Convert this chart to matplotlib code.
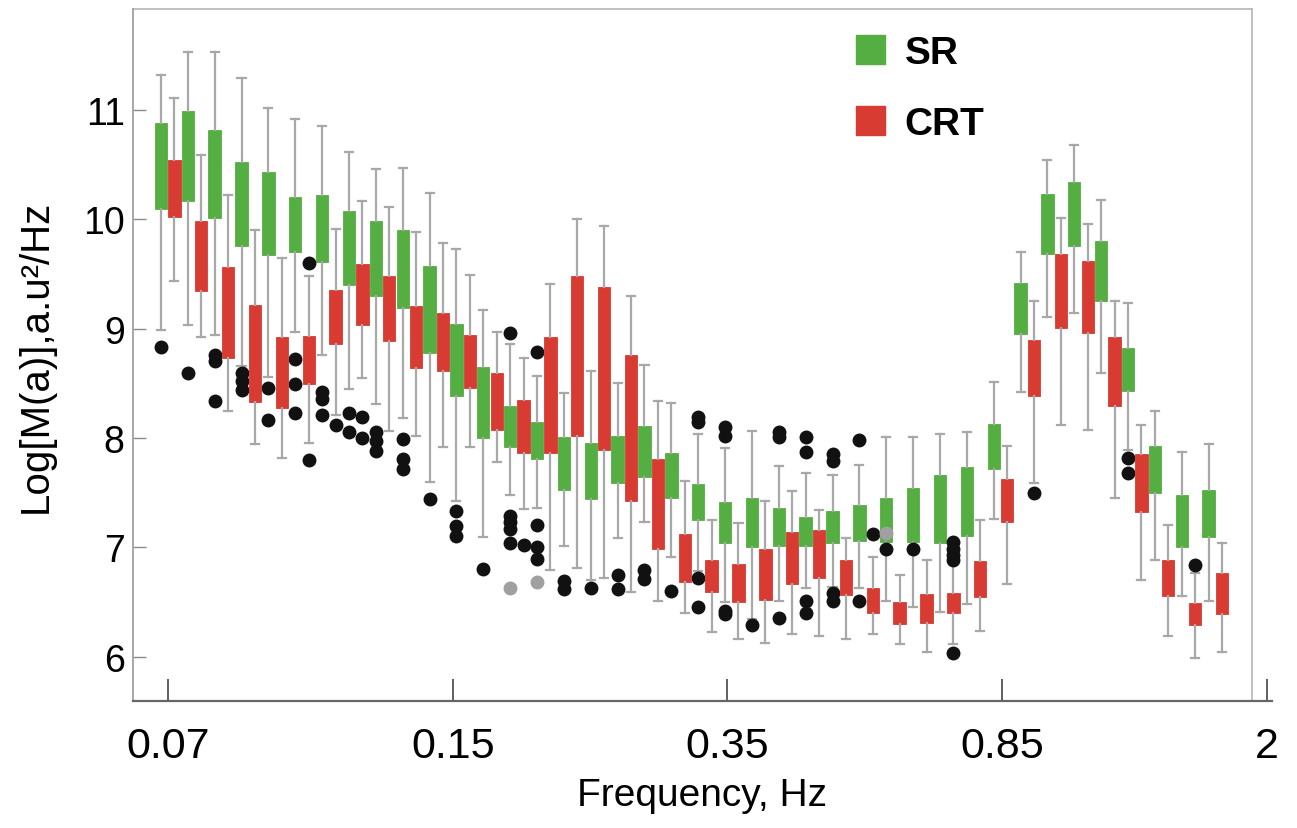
import matplotlib
matplotlib.use("Agg")
import matplotlib.pyplot as plt
from matplotlib.patches import Patch

# SR (green) boxes, one per frequency bin
sr_q3 = [10.88, 10.99, 10.82, 10.52, 10.43, 10.20, 10.22, 10.08, 9.98, 9.90,
         9.57, 9.04, 8.65, 8.29, 8.15, 8.01, 7.95, 8.02, 8.11, 7.86,
         7.58, 7.41, 7.45, 7.36, 7.28, 7.33, 7.39, 7.45, 7.54, 7.66,
         7.73, 8.13, 9.42, 10.23, 10.34, 9.80, 8.82, 7.93, 7.48, 7.52]
sr_q1 = [10.09, 10.17, 10.01, 9.76, 9.67, 9.70, 9.61, 9.40, 9.30, 9.19,
         8.78, 8.38, 8.00, 7.92, 7.81, 7.52, 7.44, 7.59, 7.64, 7.45,
         7.25, 7.04, 7.00, 7.01, 7.01, 7.04, 7.06, 7.05, 7.05, 7.04,
         7.10, 7.72, 8.95, 9.68, 9.76, 9.25, 8.43, 7.50, 7.00, 7.09]
sr_hi = [11.32, 11.53, 11.53, 11.29, 11.02, 10.92, 10.85, 10.62, 10.46, 10.47,
         10.24, 9.73, 9.17, 8.86, 8.57, 8.41, 8.61, 8.50, 8.67, 8.32,
         8.04, 7.91, 8.06, 7.74, 7.68, 7.66, 7.75, 8.01, 8.01, 8.04,
         8.05, 8.51, 9.70, 10.54, 10.68, 10.18, 9.23, 8.25, 7.87, 7.94]
sr_lo = [8.99, 9.03, 8.94, 8.66, 8.56, 8.97, 8.76, 8.45, 8.31, 8.18,
         7.60, 7.42, 7.09, 7.48, 7.36, 7.01, 6.70, 7.08, 7.23, 6.91,
         6.78, 6.50, 6.34, 6.51, 6.63, 6.64, 6.63, 6.51, 6.45, 6.41,
         6.48, 7.26, 8.42, 9.11, 9.14, 8.59, 7.89, 6.88, 6.55, 6.51]
sr_out = [[8.83], [8.59], [8.76, 8.70, 8.34], [8.59, 8.52, 8.44], [8.46, 8.16],
          [8.72, 8.49, 8.23], [8.42, 8.36, 8.21], [8.23, 8.05], [8.05, 7.97, 7.88],
          [7.99, 7.81, 7.72], [7.44], [7.33, 7.19, 7.10], [6.80],
          [8.96, 7.29, 7.23, 7.17, 7.04], [8.79, 7.20, 7.00, 6.89], [6.69, 6.62],
          [6.63], [6.75, 6.62], [6.79, 6.71], [6.60], [8.19, 8.15, 6.72, 6.45],
          [8.10, 8.02, 6.42, 6.39], [6.29], [8.05, 8.01, 6.35],
          [8.01, 7.87, 6.51, 6.40], [7.85, 7.79, 6.58, 6.51], [7.98, 6.51],
          [6.98], [6.98], [], [], [], [], [], [], [], [7.82, 7.68], [], [], []]
# grey points (bin index, value)
sr_grey_bin = [13, 14, 27]
sr_grey_val = [6.63, 6.68, 7.13]

# CRT (red) boxes
crt_q3 = [10.54, 9.98, 9.56, 9.22, 8.92, 8.93, 9.35, 9.59, 9.48, 9.21,
          9.14, 8.94, 8.59, 8.35, 8.92, 9.48, 9.38, 8.76, 7.81, 7.12,
          6.88, 6.85, 6.98, 7.14, 7.16, 6.88, 6.63, 6.50, 6.57, 6.58,
          6.87, 7.62, 8.90, 9.68, 9.62, 8.92, 7.85, 6.88, 6.49, 6.76]
crt_q1 = [10.02, 9.34, 8.73, 8.33, 8.27, 8.49, 8.86, 9.03, 8.89, 8.64,
          8.61, 8.46, 8.07, 7.86, 7.86, 8.02, 7.89, 7.42, 6.98, 6.68,
          6.59, 6.50, 6.52, 6.66, 6.72, 6.56, 6.40, 6.30, 6.31, 6.40,
          6.54, 7.23, 8.38, 9.01, 8.96, 8.29, 7.32, 6.55, 6.29, 6.39]
crt_hi = [11.11, 10.59, 10.22, 9.90, 9.65, 9.48, 9.91, 10.17, 10.11, 9.88,
          9.78, 9.49, 8.97, 8.73, 9.41, 10.00, 9.94, 9.30, 8.34, 7.61,
          7.25, 7.22, 7.42, 7.51, 7.34, 7.08, 6.91, 6.75, 6.88, 6.86,
          7.25, 7.93, 9.25, 10.01, 9.96, 9.25, 8.12, 7.20, 6.76, 7.04]
crt_lo = [9.44, 8.92, 8.25, 7.94, 7.82, 7.95, 8.21, 8.55, 8.06, 8.02,
          7.92, 7.92, 7.78, 7.35, 6.79, 6.81, 6.72, 6.59, 6.51, 6.40,
          6.22, 6.16, 6.12, 6.21, 6.19, 6.16, 6.21, 6.11, 6.04, 6.11,
          6.23, 6.66, 7.59, 8.12, 8.07, 7.45, 6.70, 6.19, 5.99, 6.04]
crt_out = [[], [], [], [], [], [9.60, 7.80], [8.12], [8.19, 8.00], [], [],
           [], [], [], [7.02], [], [], [], [], [], [],
           [], [], [], [], [], [], [7.12], [], [], [7.05, 6.98, 6.93, 6.88, 6.03],
           [], [], [7.50], [], [], [], [], [], [6.84], []]

tick_labels = ["0.07", "0.15", "0.35", "0.85", "2"]
tick_pos = [0, 10.62, 20.83, 31.06, 40.93]

green = "#55ae41"
red = "#d83b32"
whisk = "#a8a8a8"
plt.rcParams["font.family"] = ["Liberation Sans", "DejaVu Sans"]

fig = plt.figure(figsize=(12.97, 8.29), dpi=100)
ax = fig.add_axes([133 / 1297, 127 / 829, 1139 / 1297, 692 / 829])


def draw(q3, q1, hi, lo, out, shift, color):
    stats = []
    for i in range(len(q3)):
        stats.append(dict(med=q1[i], q1=q1[i], q3=q3[i], whislo=lo[i],
                          whishi=hi[i], fliers=out[i]))
    pos = [i + shift for i in range(len(q3))]
    ax.bxp(stats, positions=pos, widths=0.46, patch_artist=True,
           capwidths=0.3, manage_ticks=False,
           boxprops=dict(facecolor=color, edgecolor=color, linewidth=0.6),
           whiskerprops=dict(color=whisk, linewidth=1.6),
           capprops=dict(color=whisk, linewidth=1.6),
           medianprops=dict(linewidth=0),
           flierprops=dict(marker="o", markerfacecolor="#111111",
                           markeredgecolor="#111111", markersize=9))


draw(sr_q3, sr_q1, sr_hi, sr_lo, sr_out, -0.25, green)
draw(crt_q3, crt_q1, crt_hi, crt_lo, crt_out, 0.25, red)
ax.plot([b - 0.25 for b in sr_grey_bin], sr_grey_val, "o", color="#a0a0a0",
        markersize=9, linestyle="none")

ax.set_xlim(-1.29, 41.11)
ax.set_ylim(5.593, 11.924)

# frame: top and right edges stop before the end of the x axis line
fr = (1252 - 133) / 1139
ax.spines["top"].set_visible(False)
ax.spines["right"].set_visible(False)
ax.plot([0, fr], [1, 1], transform=ax.transAxes, color="#b5b5b5", lw=1.2, clip_on=False)
ax.plot([fr, fr], [0, 1], transform=ax.transAxes, color="#b5b5b5", lw=1.2, clip_on=False)
ax.spines["left"].set_color("#9a9a9a")
ax.spines["left"].set_linewidth(1.2)
ax.spines["bottom"].set_color("#666666")
ax.spines["bottom"].set_linewidth(1.6)

ax.set_yticks([6, 7, 8, 9, 10, 11])
ax.tick_params(axis="y", direction="in", length=9, width=1, color="#8a8a8a",
               labelsize=27, pad=6)
ax.set_xticks(tick_pos)
ax.set_xticklabels(tick_labels, fontsize=31)
ax.tick_params(axis="x", direction="in", length=16, width=1.2, color="#444444", pad=18)

ax.set_xlabel("Frequency, Hz", fontsize=28, labelpad=8)
ax.set_ylabel("Log[M(a)],a.u²/Hz", fontsize=29, labelpad=20)

handles = [Patch(facecolor=green, edgecolor=green, label="SR"),
           Patch(facecolor=red, edgecolor=red, label="CRT")]
ax.legend(handles=handles, loc="upper left", bbox_to_anchor=(0.604, 1.013),
          frameon=False, prop=dict(family="Liberation Sans", weight="bold", size=28),
          handlelength=0.75, handleheight=0.75, handletextpad=0.5, labelspacing=0.9)

fig.savefig("out.png", dpi=100)
